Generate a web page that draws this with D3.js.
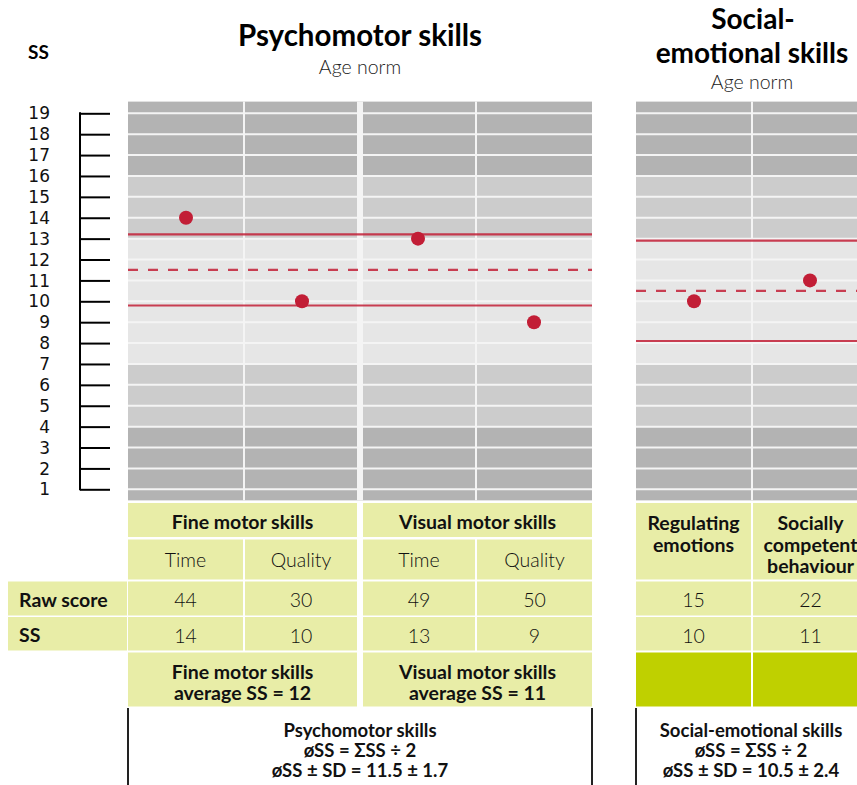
<!DOCTYPE html>
<html>
<head>
<meta charset="utf-8">
<script src="https://cdn.jsdelivr.net/npm/d3@7"></script>
<style>
  body { margin: 0; background: #fff; }
  svg { display: block; font-family: Lato, "Open Sans", sans-serif; }
</style>
</head>
<body>
<svg id="chart" width="857" height="785"></svg>
<script>
// --- data ---
const ssTicks = d3.range(1, 20);
const normBandEdges = [4, 7, 13, 16];           // -2SD, -1SD, +1SD, +2SD
const groups = ['Fine motor skills', 'Visual motor skills'];
const subtests = ['Time', 'Quality', 'Time', 'Quality'];
const socialSubtests = [['Regulating', 'emotions'], ['Socially', 'competent', 'behaviour']];
const rawScores = [44, 30, 49, 50, 15, 22];
const ssValues = [14, 10, 13, 9, 10, 11];
const groupAverages = [12, 11];
const domainNames = ['Psychomotor skills', 'Social-emotional skills'];
const domainMeans = [11.5, 10.5];
const domainSDs = [1.7, 2.4];

const svg = d3.select('#chart');

const red = '#c21e36';
const cellFill = '#e8eda7';
const cellDark = '#bfd000';
const bandFill = {dark: '#b3b3b3', mid: '#cccccc', light: '#e6e6e6'};
const fs = 19.5;

const y = d3.scaleLinear().domain([1, 19]).range([489.3, 113.3]);
const yTop = y(19.56), yBottom = y(0.47);

// two panels, each column ~116px wide
const xPsy = d3.scaleBand().domain([0, 1, 2, 3]).range([128, 592]);
const xSoc = d3.scaleBand().domain([4, 5]).range([636, 868]);
const panels = [
  {x: xPsy, cols: [0, 1, 2, 3], x0: 128, x1: 592},
  {x: xSoc, cols: [4, 5], x0: 636, x1: 868}
];
const colX = i => (i < 4 ? xPsy(i) : xSoc(i));
const bw = xPsy.bandwidth();

// gaps at the left/right of each column
const gapL = i => (i === 0 || i === 4) ? 0 : (i === 2 ? 3 : 1);
const gapR = i => (i === 3 || i === 5) ? 0 : (i === 1 ? 3 : 1);

// --- titles ---
svg.append('text').attr('x', 28).attr('y', 59)
  .attr('font-size', 19).attr('font-weight', 700).text('SS');

svg.append('text').attr('x', 360).attr('y', 46).attr('text-anchor', 'middle')
  .attr('font-size', 29.5).attr('font-weight', 700).text('Psychomotor skills');
svg.append('text').attr('x', 360).attr('y', 74).attr('text-anchor', 'middle')
  .attr('font-size', 19.5).attr('font-weight', 300).attr('fill', '#222').text('Age norm');

svg.append('text').attr('x', 753).attr('y', 29).attr('text-anchor', 'middle')
  .attr('font-size', 28).attr('font-weight', 700).text('Social-');
svg.append('text').attr('x', 752).attr('y', 63).attr('text-anchor', 'middle')
  .attr('font-size', 28).attr('font-weight', 700).text('emotional skills');
svg.append('text').attr('x', 752).attr('y', 89).attr('text-anchor', 'middle')
  .attr('font-size', 19.5).attr('font-weight', 300).attr('fill', '#222').text('Age norm');

// --- axis ---
const axis = svg.append('g').attr('transform', 'translate(80,0)')
  .call(d3.axisRight(y).tickValues(ssTicks).tickSize(30).tickFormat(''));
axis.select('.domain').remove();
axis.selectAll('.tick line').attr('stroke', '#000').attr('stroke-width', 2);
svg.append('line').attr('x1', 80).attr('x2', 80)
  .attr('y1', y(19) - 1).attr('y2', y(1) + 1)
  .attr('stroke', '#000').attr('stroke-width', 2);
svg.append('g').selectAll('text').data(ssTicks).join('text')
  .attr('x', 50).attr('y', d => y(d)).attr('dy', '0.36em')
  .attr('text-anchor', 'end').attr('font-family', '"DejaVu Sans", sans-serif')
  .attr('font-size', 17).attr('fill', '#111').text(d => d);

// --- norm bands per panel ---
const bandList = [
  {from: 0.47, to: normBandEdges[0], c: bandFill.dark},
  {from: normBandEdges[0], to: normBandEdges[1], c: bandFill.mid},
  {from: normBandEdges[1], to: normBandEdges[2], c: bandFill.light},
  {from: normBandEdges[2], to: normBandEdges[3], c: bandFill.mid},
  {from: normBandEdges[3], to: 19.56, c: bandFill.dark}
];

panels.forEach((p, pi) => {
  const g = svg.append('g');
  g.selectAll('rect').data(bandList).join('rect')
    .attr('x', p.x0).attr('width', p.x1 - p.x0)
    .attr('y', d => y(d.to)).attr('height', d => y(d.from) - y(d.to))
    .attr('fill', d => d.c);
  g.selectAll('line.h').data(ssTicks).join('line').attr('class', 'h')
    .attr('x1', p.x0).attr('x2', p.x1).attr('y1', d => y(d)).attr('y2', d => y(d))
    .attr('stroke', '#f4f4f4').attr('stroke-width', 2);
  g.selectAll('line.v').data(p.cols.slice(1)).join('line').attr('class', 'v')
    .attr('x1', d => colX(d)).attr('x2', d => colX(d))
    .attr('y1', yTop).attr('y2', yBottom)
    .attr('stroke', '#f4f4f4').attr('stroke-width', d => d === 2 ? 6 : 2);

  // mean and +/- SD lines
  const m = domainMeans[pi], sd = domainSDs[pi];
  g.selectAll('line.sd').data([m + sd, m - sd]).join('line').attr('class', 'sd')
    .attr('x1', p.x0).attr('x2', p.x1).attr('y1', d => y(d)).attr('y2', d => y(d))
    .attr('stroke', red).attr('stroke-opacity', 0.85).attr('stroke-width', 2.2);
  g.append('line')
    .attr('x1', p.x0).attr('x2', p.x1).attr('y1', y(m)).attr('y2', y(m))
    .attr('stroke', red).attr('stroke-opacity', 0.85).attr('stroke-width', 2.2)
    .attr('stroke-dasharray', '10,10');

  g.selectAll('circle').data(p.cols).join('circle')
    .attr('cx', d => colX(d) + bw / 2).attr('cy', d => y(ssValues[d]))
    .attr('r', 7).attr('fill', red);
});

// --- table ---
const rows = {
  head: {y: 503, h: 34},
  sub: {y: 539.5, h: 40},
  raw: {y: 581.5, h: 34},
  ss: {y: 617, h: 33.5},
  avg: {y: 652.5, h: 54}
};
const table = svg.append('g');
const cell = (x0, x1, r, fill) => table.append('rect')
  .attr('x', x0).attr('y', r.y).attr('width', x1 - x0).attr('height', r.h)
  .attr('fill', fill || cellFill);
const txt = (x, yy, s, opts) => table.append('text')
  .attr('x', x).attr('y', yy).attr('dy', '0.38em')
  .attr('text-anchor', (opts && opts.anchor) || 'middle')
  .attr('font-size', fs)
  .attr('font-weight', opts && opts.bold ? 700 : 300)
  .attr('fill', '#111').text(s);

// row labels
cell(8, 127, rows.raw); cell(8, 127, rows.ss);
txt(19, rows.raw.y + rows.raw.h / 2 + 1, 'Raw score', {anchor: 'start', bold: true});
txt(19, rows.ss.y + rows.ss.h / 2 + 1, 'SS', {anchor: 'start', bold: true});

// psychomotor groups
groups.forEach((name, gi) => {
  const a = gi * 2, b = gi * 2 + 1;
  const x0 = colX(a) + gapL(a), x1 = colX(b) + bw - gapR(b);
  cell(x0, x1, rows.head);
  txt((x0 + x1) / 2, rows.head.y + rows.head.h / 2 + 2, name, {bold: true});
  cell(x0, x1, rows.avg);
  txt((x0 + x1) / 2, rows.avg.y + 19.5, name, {bold: true});
  txt((x0 + x1) / 2, rows.avg.y + 40.5, 'average SS = ' + groupAverages[gi], {bold: true});
});

d3.range(6).forEach(i => {
  const x0 = colX(i) + gapL(i), x1 = colX(i) + bw - gapR(i), cx = (x0 + x1) / 2;
  if (i < 4) {
    cell(x0, x1, rows.sub);
    txt(cx, rows.sub.y + rows.sub.h / 2, subtests[i], {});
  } else {
    cell(x0, x1, {y: rows.head.y, h: rows.sub.y + rows.sub.h - rows.head.y});
    socialSubtests[i - 4].forEach((line, li) => txt(cx, 523 + li * 21.5, line, {bold: true}));
    cell(x0, x1, rows.avg, cellDark);
  }
  cell(x0, x1, rows.raw);
  txt(cx, rows.raw.y + rows.raw.h / 2 + 1.5, rawScores[i], {});
  cell(x0, x1, rows.ss);
  txt(cx, rows.ss.y + rows.ss.h / 2 + 2, ssValues[i], {});
});

// --- domain summary ---
const summary = svg.append('g');
panels.forEach((p, pi) => {
  [p.x0, p.x1].forEach(x => summary.append('line')
    .attr('x1', x).attr('x2', x).attr('y1', 708).attr('y2', 785)
    .attr('stroke', '#222').attr('stroke-width', 2));
  const cx = pi === 0 ? (p.x0 + p.x1) / 2 : 751;
  const lines = [domainNames[pi], 'øSS = ΣSS ÷ 2',
    'øSS ± SD = ' + domainMeans[pi] + ' ± ' + domainSDs[pi]];
  lines.forEach((s, li) => summary.append('text')
    .attr('x', cx).attr('y', 730 + li * 20).attr('dy', '0.36em')
    .attr('text-anchor', 'middle').attr('font-size', 18.5).attr('font-weight', 700)
    .attr('fill', '#111').text(s));
});
</script>
</body>
</html>
